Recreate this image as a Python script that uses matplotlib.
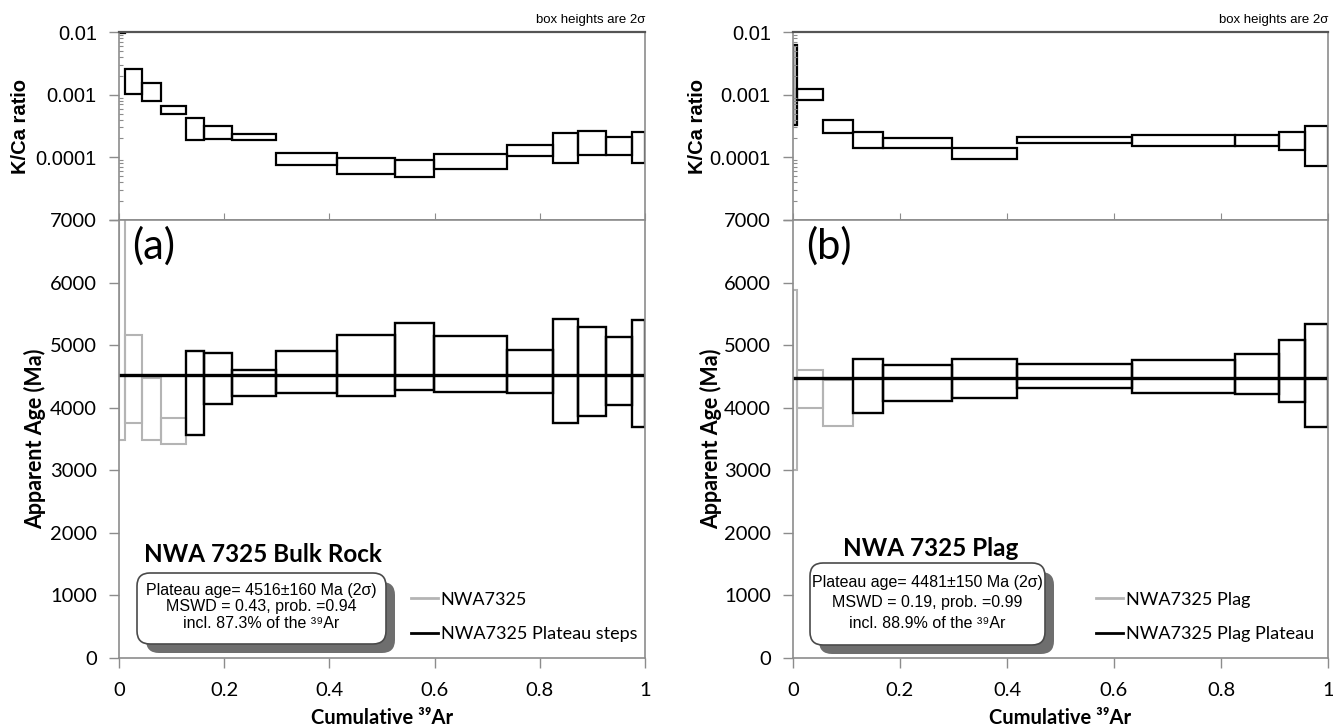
import matplotlib.pyplot as plt
import matplotlib.transforms as mtransforms
from matplotlib.patches import Rectangle, FancyBboxPatch
from matplotlib.lines import Line2D

W, H = 1333, 726

# (a) NWA 7325 bulk rock: step edges (cumulative 39Ar), K/Ca and age boxes (2 sigma)
a_edges = [0, 0.011, 0.043, 0.079, 0.127, 0.161, 0.215, 0.298, 0.415, 0.524,
           0.599, 0.737, 0.826, 0.873, 0.925, 0.976, 1.0]
a_kca_lo = [0.0097, 0.00104, 0.00078, 0.000495, 0.000186, 0.000197, 0.000186,
            7.5e-5, 5.4e-5, 4.9e-5, 6.6e-5, 1.05e-4, 8.2e-5, 1.09e-4, 1.09e-4, 8.1e-5]
a_kca_hi = [0.05, 0.00257, 0.00151, 0.00065, 0.000428, 0.00032, 0.000236,
            1.18e-4, 9.6e-5, 9.2e-5, 1.13e-4, 1.6e-4, 2.42e-4, 2.6e-4, 2.09e-4, 2.5e-4]
a_age_lo = [3485, 3763, 3485, 3421, 3560, 4056, 4190, 4232, 4189, 4291, 4259,
            4243, 3752, 3869, 4040, 3693]
a_age_hi = [7600, 5160, 4480, 3837, 4909, 4877, 4610, 4899, 5160, 5347, 5144,
            4920, 5416, 5283, 5133, 5400]
a_n_rejected = 4
a_plateau_age = 4516

# (b) NWA 7325 plagioclase
b_edges = [0, 0.008, 0.057, 0.112, 0.168, 0.298, 0.418, 0.634, 0.826, 0.908, 0.957, 1.0]
b_kca_lo = [0.00033, 0.00082, 0.000244, 0.000143, 0.00014, 9.5e-5, 0.000168,
            0.000154, 0.000154, 0.000133, 7.2e-5]
b_kca_hi = [0.0061, 0.00123, 0.00039, 0.000253, 0.0002, 0.00014, 0.00021,
            0.000229, 0.000229, 0.000253, 0.000316]
b_age_lo = [2997, 3988, 3708, 3923, 4111, 4160, 4311, 4241, 4219, 4085, 3697]
b_age_hi = [5889, 4607, 4435, 4785, 4677, 4774, 4693, 4763, 4855, 5075, 5345]
b_n_rejected = 3
b_plateau_age = 4481

CAL = ['Lato', 'DejaVu Sans']
ARI = ['Liberation Sans', 'DejaVu Sans']
GREY = '#b4b4b4'
AXC = '#8c8c8c'

fig = plt.figure(figsize=(W / 100, H / 100), dpi=100)
ident = mtransforms.IdentityTransform()


def rect(x0, x1, y0, y1):
    return [x0 / W, 1 - y1 / H, (x1 - x0) / W, (y1 - y0) / H]


def ftext(x, y, s, **kw):
    fig.text(x / W, 1 - y / H, s, **kw)


def style_axes(ax):
    for sp in ax.spines.values():
        sp.set_color(AXC)
        sp.set_linewidth(1.2)


def panel(x0, x1, edges, klo, khi, alo, ahi, nrej, plateau, tag, title,
          box_lines, box_xy, leg_labels, leg_anchor, title_y):
    axk = fig.add_axes(rect(x0, x1, 32, 220))
    axa = fig.add_axes(rect(x0, x1, 220, 658), sharex=axk)

    # K/Ca panel
    for i in range(len(edges) - 1):
        fc = '#c8c8c8' if (i == 0 and khi[i] < 0.01) else 'none'
        axk.add_patch(Rectangle((edges[i], klo[i]), edges[i + 1] - edges[i],
                                khi[i] - klo[i], fill=(fc != 'none'), fc=fc,
                                ec='black', lw=1.6))
    axk.set_yscale('log')
    axk.set_ylim(1e-5, 1e-2)
    axk.set_xlim(0, 1)
    axk.set_yticks([1e-5, 1e-4, 1e-3, 1e-2])
    axk.set_yticklabels(['', '0.0001', '0.001', '0.01'], family=ARI, fontsize=14.5)
    axk.tick_params(axis='y', which='major', direction='out', length=7, width=1,
                    color=AXC, pad=9)
    axk.tick_params(axis='y', which='minor', direction='in', length=3, width=0.8,
                    color=AXC)
    axk.tick_params(axis='x', which='both', direction='in', length=5, color=AXC,
                    labelbottom=False)
    style_axes(axk)
    axk.spines['top'].set_color('#555555')
    axk.spines['top'].set_linewidth(1.6)

    # age panel
    for i in range(len(edges) - 1):
        col = GREY if i < nrej else 'black'
        axa.add_patch(Rectangle((edges[i], alo[i]), edges[i + 1] - edges[i],
                                ahi[i] - alo[i], fill=False, ec=col,
                                lw=1.5 if i < nrej else 1.7))
    axa.plot([0, 1], [plateau, plateau], color='black', lw=2.4)
    axa.set_ylim(0, 7000)
    axa.set_xlim(0, 1)
    axa.set_yticks(range(0, 7001, 1000))
    axa.set_yticklabels([str(v) for v in range(0, 7001, 1000)], family=CAL, fontsize=14.5)
    axa.set_xticks([0, 0.2, 0.4, 0.6, 0.8, 1.0])
    axa.set_xticklabels(['0', '0.2', '0.4', '0.6', '0.8', '1'], family=CAL, fontsize=14.5)
    axa.tick_params(axis='both', direction='out', length=7, width=1, color=AXC)
    axa.tick_params(axis='y', pad=9)
    axa.tick_params(axis='x', pad=10)
    style_axes(axa)

    axa.text(0.025, 0.985, tag, transform=axa.transAxes, family=CAL, fontsize=30,
             ha='left', va='top')

    handles = [Line2D([], [], color=GREY, lw=2), Line2D([], [], color='black', lw=2)]
    axa.legend(handles, leg_labels, loc='center left', bbox_to_anchor=leg_anchor,
               frameon=False, handlelength=1.5, handletextpad=0.15,
               labelspacing=1.0, borderpad=0, borderaxespad=0,
               prop={'family': CAL, 'size': 13})

    # titles and labels
    cx = (x0 + x1) / 2
    ftext(cx, 718, 'Cumulative \u00b3\u2079Ar', family=CAL, fontweight='bold',
          fontsize=14.5, ha='center', va='center')
    ftext(x1, 20, 'box heights are 2\u03c3', family=ARI, fontsize=9.5,
          ha='right', va='center')
    ftext(title[1], title_y, title[0], family=CAL, fontweight='bold', fontsize=17.5,
          ha='center', va='center')

    # rounded info box with shadow
    bx0, by0, bx1, by1 = box_xy
    shadow = FancyBboxPatch((bx0 + 9, H - by1 - 9), bx1 - bx0, by1 - by0,
                            boxstyle='round,pad=0,rounding_size=13',
                            fc='#6e6e6e', ec='none', transform=ident)
    box = FancyBboxPatch((bx0, H - by1), bx1 - bx0, by1 - by0,
                         boxstyle='round,pad=0,rounding_size=13',
                         fc='white', ec='#4a4a4a', lw=1.2, transform=ident)
    fig.add_artist(shadow)
    fig.add_artist(box)
    for txt, ty in box_lines:
        ftext((bx0 + bx1) / 2, ty, txt, family=ARI, fontsize=11.5,
              ha='center', va='center', zorder=5)
    return axk, axa


panel(119, 645, a_edges, a_kca_lo, a_kca_hi, a_age_lo, a_age_hi, a_n_rejected,
      a_plateau_age, '(a)', ('NWA 7325 Bulk Rock', 263),
      [('Plateau age= 4516\u00b1160 Ma (2\u03c3)', 590),
       ('MSWD = 0.43, prob. =0.94', 607),
       ('incl. 87.3% of the \u00b3\u2079Ar', 624)],
      (137, 573, 386, 644), ['NWA7325', 'NWA7325 Plateau steps'],
      (0.555, 0.094), 555)

panel(793, 1328, b_edges, b_kca_lo, b_kca_hi, b_age_lo, b_age_hi, b_n_rejected,
      b_plateau_age, '(b)', ('NWA 7325 Plag', 931),
      [('Plateau age= 4481\u00b1150 Ma (2\u03c3)', 582),
       ('MSWD = 0.19, prob. =0.99', 603),
       ('incl. 88.9% of the \u00b3\u2079Ar', 623)],
      (810, 563, 1045, 645), ['NWA7325 Plag', 'NWA7325 Plag Plateau'],
      (0.566, 0.094), 548)

ftext(21, 126, 'K/Ca ratio', family=ARI, fontweight='bold', fontsize=14.5,
      rotation=90, ha='center', va='center')
ftext(35, 439, 'Apparent Age (Ma)', family=CAL, fontweight='bold', fontsize=15.5,
      rotation=90, ha='center', va='center')
ftext(697, 126, 'K/Ca ratio', family=ARI, fontweight='bold', fontsize=14.5,
      rotation=90, ha='center', va='center')
ftext(711, 439, 'Apparent Age (Ma)', family=CAL, fontweight='bold', fontsize=15.5,
      rotation=90, ha='center', va='center')

fig.savefig('out.png', dpi=100)
